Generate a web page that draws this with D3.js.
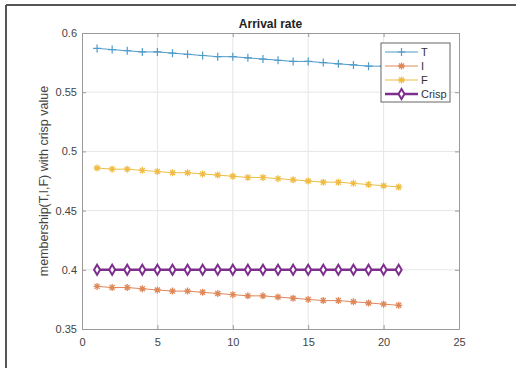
<!DOCTYPE html>
<html>
<head>
<meta charset="utf-8">
<script src="https://cdn.jsdelivr.net/npm/d3@7"></script>
<style>
  body { margin: 0; background: #fff; }
  svg text { font-family: "Liberation Sans", Arial, sans-serif; }
</style>
</head>
<body>
<div id="chart"></div>
<script>
// data
var steps = d3.range(1, 22);
var seriesT = [0.587,0.586,0.585,0.584,0.584,0.583,0.582,0.581,0.580,0.580,0.579,0.578,0.577,0.576,0.576,0.575,0.574,0.573,0.572,0.572,0.571];
var seriesI = [0.386,0.385,0.385,0.384,0.383,0.382,0.382,0.381,0.380,0.379,0.378,0.378,0.377,0.376,0.375,0.374,0.374,0.373,0.372,0.371,0.370];
var seriesF = [0.486,0.485,0.485,0.484,0.483,0.482,0.482,0.481,0.480,0.479,0.478,0.478,0.477,0.476,0.475,0.474,0.474,0.473,0.472,0.471,0.470];
var seriesCrisp = [0.4,0.4,0.4,0.4,0.4,0.4,0.4,0.4,0.4,0.4,0.4,0.4,0.4,0.4,0.4,0.4,0.4,0.4,0.4,0.4,0.4];
var xTicks = [0, 5, 10, 15, 20, 25];
var yTicks = [0.35, 0.4, 0.45, 0.5, 0.55, 0.6];

var W = 516, H = 368;
var margin = {top: 33, right: 57, bottom: 39, left: 82},
    width = W - margin.left - margin.right,
    height = H - margin.top - margin.bottom;

var svg = d3.select("#chart").append("svg")
    .attr("width", W)
    .attr("height", H);

// outer frame (top + left edges of the figure window)
svg.append("line").attr("x1", 6).attr("x2", W).attr("y1", 5).attr("y2", 5)
  .attr("stroke", "#555").attr("stroke-width", 2);
svg.append("line").attr("x1", 6).attr("x2", 6).attr("y1", 5).attr("y2", H)
  .attr("stroke", "#555").attr("stroke-width", 2);

var g = svg.append("g")
    .attr("transform", "translate(" + margin.left + "," + margin.top + ")");

var x = d3.scaleLinear().domain([0, 25]).range([0, width]);
var y = d3.scaleLinear().domain([0.35, 0.6]).range([height, 0]);

// grid
g.append("g").selectAll("line").data(xTicks.slice(1, -1)).join("line")
  .attr("x1", d => x(d)).attr("x2", d => x(d)).attr("y1", 0).attr("y2", height)
  .attr("stroke", "#e6e6e6");
g.append("g").selectAll("line").data(yTicks.slice(1, -1)).join("line")
  .attr("y1", d => y(d)).attr("y2", d => y(d)).attr("x1", 0).attr("x2", width)
  .attr("stroke", "#e6e6e6");

// axes, MATLAB style: ticks inside, box all round
function styleAxis(sel) {
  sel.select(".domain").attr("stroke", "#9a9a9a");
  sel.selectAll(".tick line").attr("stroke", "#9a9a9a");
  sel.selectAll(".tick text").attr("fill", "#444").style("font-size", "11px");
}
g.append("g")
  .attr("transform", "translate(0," + height + ")")
  .call(d3.axisBottom(x).tickValues(xTicks).tickSizeInner(-4).tickSizeOuter(0).tickPadding(9))
  .call(styleAxis);
g.append("g")
  .call(d3.axisLeft(y).tickValues(yTicks).tickFormat(d3.format("")).tickSizeInner(-4).tickSizeOuter(0).tickPadding(5))
  .call(styleAxis);
g.append("g")
  .call(d3.axisTop(x).tickValues(xTicks).tickFormat("").tickSizeInner(-4).tickSizeOuter(0))
  .call(styleAxis);
g.append("g")
  .attr("transform", "translate(" + width + ",0)")
  .call(d3.axisRight(y).tickValues(yTicks).tickFormat("").tickSizeInner(-4).tickSizeOuter(0))
  .call(styleAxis);

// title + y label
svg.append("text")
  .attr("x", margin.left + width / 2).attr("y", 28)
  .attr("text-anchor", "middle")
  .style("font-size", "12px").style("font-weight", "bold").attr("fill", "#222")
  .text("Arrival rate");
svg.append("text")
  .attr("transform", "translate(48," + (margin.top + height / 2) + ") rotate(-90)")
  .attr("text-anchor", "middle")
  .style("font-size", "12.5px").attr("fill", "#444")
  .text("membership(T,I,F) with crisp value");

var series = [
  {name: "T", values: seriesT, color: "#4f9bc9", marker: "plus", lw: 1},
  {name: "I", values: seriesI, color: "#e0875a", marker: "star", lw: 1},
  {name: "F", values: seriesF, color: "#efbd45", marker: "star", lw: 1},
  {name: "Crisp", values: seriesCrisp, color: "#7e2f8e", marker: "diamond", lw: 2.5}
];

var line = d3.line()
  .x(d => x(d[0]))
  .y(d => y(d[1]));

function drawMarker(sel, type, color) {
  if (type === "diamond") {
    sel.append("path").attr("d", "M0,-5L3,0L0,5L-3,0Z")
      .attr("fill", "#fff").attr("stroke", color).attr("stroke-width", 2);
  } else if (type === "plus") {
    sel.append("path").attr("d", "M-4,0H4M0,-4V4")
      .attr("stroke", color).attr("stroke-width", 1.2);
  } else {
    sel.append("path").attr("d", "M-3.5,0H3.5M0,-3.5V3.5M-2.5,-2.5L2.5,2.5M-2.5,2.5L2.5,-2.5")
      .attr("stroke", color).attr("stroke-width", 1.3);
  }
}

series.forEach(function(s) {
  var pts = steps.map((d, i) => [d, s.values[i]]);
  g.append("path").datum(pts)
    .attr("fill", "none").attr("stroke", s.color).attr("stroke-width", s.lw)
    .attr("d", line);
  g.append("g").selectAll("g").data(pts).join("g")
    .attr("transform", d => "translate(" + x(d[0]) + "," + y(d[1]) + ")")
    .each(function() { drawMarker(d3.select(this), s.marker, s.color); });
});

// legend
var lg = svg.append("g").attr("transform", "translate(381,43)");
lg.append("rect").attr("width", 69).attr("height", 59)
  .attr("fill", "#fff").attr("stroke", "#666").attr("stroke-width", 1);
series.forEach(function(s, i) {
  var row = lg.append("g").attr("transform", "translate(0," + (9 + i * 14) + ")");
  row.append("line").attr("x1", 4).attr("x2", 37)
    .attr("stroke", s.color).attr("stroke-width", s.lw);
  drawMarker(row.append("g").attr("transform", "translate(20.5,0)"), s.marker, s.color);
  row.append("text").attr("x", 40).attr("y", 4)
    .style("font-size", "11px").attr("fill", "#333").text(s.name);
});
</script>
</body>
</html>
